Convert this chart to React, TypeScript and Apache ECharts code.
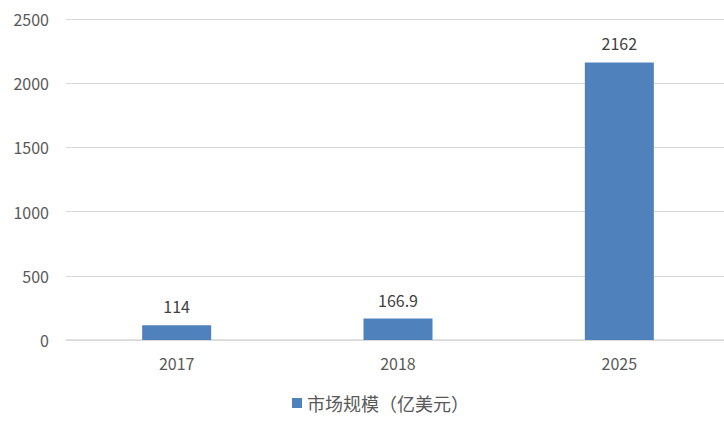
import React, { useEffect, useRef } from 'react';
import * as echarts from 'echarts';

const years = ['2017', '2018', '2025'];
const marketSize = [114, 166.9, 2162];
const seriesName = '市场规模（亿美元）';

const FONT = '"Noto Sans CJK SC", "Noto Sans", sans-serif';

const App: React.FC = () => {
  const ref = useRef<HTMLDivElement | null>(null);

  useEffect(() => {
    document.body.style.margin = '0';
    document.body.style.overflow = 'hidden';
    if (!ref.current) return;
    const chart = echarts.init(ref.current, undefined, { renderer: 'svg' });
    chart.setOption({
      animation: false,
      textStyle: { fontFamily: FONT },
      grid: { left: 66, right: 0, top: 19, bottom: 83, containLabel: false },
      legend: {
        bottom: 6,
        left: 287,
        icon: 'rect',
        itemWidth: 10,
        itemHeight: 10,
        itemGap: 6,
        textStyle: { fontSize: 18, color: '#595959', fontFamily: FONT },
        data: [seriesName]
      },
      xAxis: {
        type: 'category',
        data: years,
        axisLine: { lineStyle: { color: '#d9d9d9', width: 1.5 } },
        axisTick: { show: false },
        axisLabel: { fontSize: 16, color: '#595959', margin: 15 }
      },
      yAxis: {
        type: 'value',
        min: 0,
        max: 2500,
        interval: 500,
        axisLine: { show: false },
        axisTick: { show: false },
        axisLabel: { fontSize: 16, color: '#595959', margin: 17, formatter: (v: number) => String(v) },
        splitLine: { lineStyle: { color: '#d9d9d9', width: 1.2 } }
      },
      series: [{
        name: seriesName,
        type: 'bar',
        data: marketSize,
        barWidth: 69,
        itemStyle: { color: '#4f81bd' },
        label: {
          show: true,
          position: 'top',
          distance: 11,
          fontSize: 16,
          color: '#404040'
        }
      }]
    });
    return () => { chart.dispose(); };
  }, []);

  return <div ref={ref} style={{ width: 730, height: 423 }} />;
};

export default App;
